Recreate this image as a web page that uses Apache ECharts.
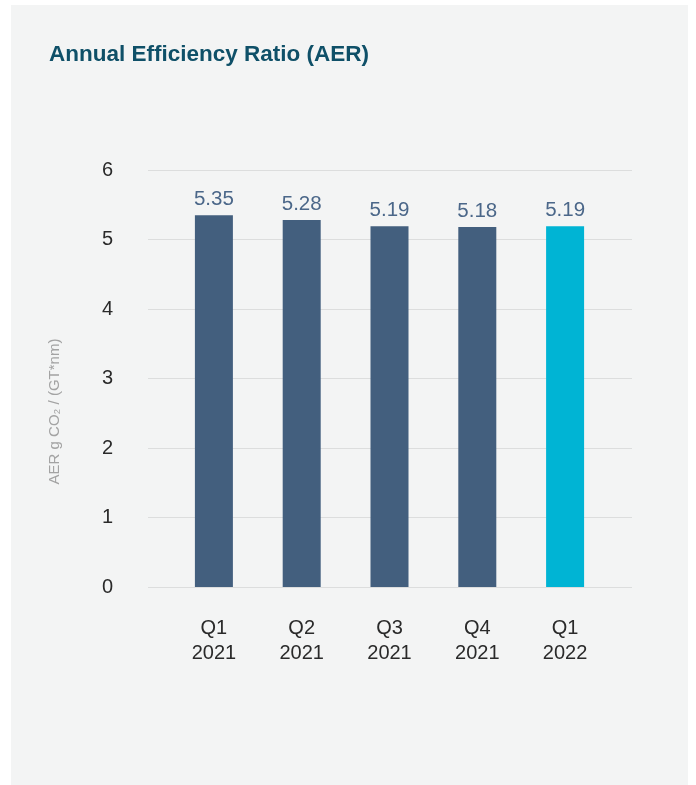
<!DOCTYPE html>
<html>
<head>
<meta charset="utf-8">
<script src="https://cdn.jsdelivr.net/npm/echarts@6/dist/echarts.min.js"></script>
<style>
  html, body { margin: 0; padding: 0; background: #ffffff; }
  #chart { width: 696px; height: 785px; }
</style>
</head>
<body>
<div id="chart"></div>
<script>
// Quarterly Annual Efficiency Ratio values
const quarters = ['Q1\n2021', 'Q2\n2021', 'Q3\n2021', 'Q4\n2021', 'Q1\n2022'];
const aerValues = [5.35, 5.28, 5.19, 5.18, 5.19];
const yTicks = [0, 1, 2, 3, 4, 5, 6];

const pastColor = '#435f7e';
const latestColor = '#00b4d4';

const chart = echarts.init(document.getElementById('chart'), null, { renderer: 'canvas' });

const font = '"Liberation Sans", Arial, Helvetica, sans-serif';

chart.setOption({
  animation: false,
  backgroundColor: '#ffffff',
  graphic: [
    {
      type: 'rect',
      z: -10,
      shape: { x: 11, y: 5, width: 677, height: 785 },
      style: { fill: '#f3f4f4' }
    }
  ],
  title: {
    text: 'Annual Efficiency Ratio (AER)',
    left: 44,
    top: 38,
    textStyle: {
      fontFamily: font,
      fontSize: 22.5,
      fontWeight: 'bold',
      color: '#0f5068'
    }
  },
  grid: [
    // wide grid that carries the y scale and the horizontal rules
    { left: 148, right: 64, top: 170, bottom: 198 },
    // inner grid holding the bars
    { left: 170, width: 439, top: 170, bottom: 198 }
  ],
  xAxis: [
    {
      gridIndex: 0,
      type: 'category',
      data: quarters,
      show: false
    },
    {
      gridIndex: 1,
      type: 'category',
      data: quarters,
      axisLine: { show: false },
      axisTick: { show: false },
      axisLabel: {
        margin: 29,
        fontFamily: font,
        fontSize: 20,
        lineHeight: 25,
        color: '#2a2a2a'
      }
    }
  ],
  yAxis: [
    {
      gridIndex: 0,
      type: 'value',
      min: yTicks[0],
      max: yTicks[yTicks.length - 1],
      interval: 1,
      name: 'AER g CO₂ / (GT*nm)',
      nameLocation: 'middle',
      nameGap: 86,
      nameRotate: 90,
      nameTextStyle: {
        fontFamily: font,
        fontSize: 15,
        color: '#a3a3a3',
        // push the rotated title down toward the lower half of the axis
        padding: [0, 66, 0, 0]
      },
      axisLine: { show: false },
      axisTick: { show: false },
      axisLabel: {
        margin: 35,
        fontFamily: font,
        fontSize: 20,
        color: '#2a2a2a'
      },
      splitLine: { lineStyle: { color: '#dcdddd', width: 1 } }
    },
    {
      gridIndex: 1,
      type: 'value',
      min: yTicks[0],
      max: yTicks[yTicks.length - 1],
      interval: 1,
      show: false,
      splitLine: { show: false }
    }
  ],
  series: [
    {
      type: 'bar',
      xAxisIndex: 1,
      yAxisIndex: 1,
      barWidth: 38,
      data: aerValues.map((v, i) => ({
        value: v,
        itemStyle: { color: i === aerValues.length - 1 ? latestColor : pastColor }
      })),
      label: {
        show: true,
        position: 'top',
        distance: 5,
        fontFamily: font,
        fontSize: 20.5,
        color: '#4b6789',
        formatter: p => p.value.toFixed(2)
      }
    }
  ]
});
</script>
</body>
</html>
